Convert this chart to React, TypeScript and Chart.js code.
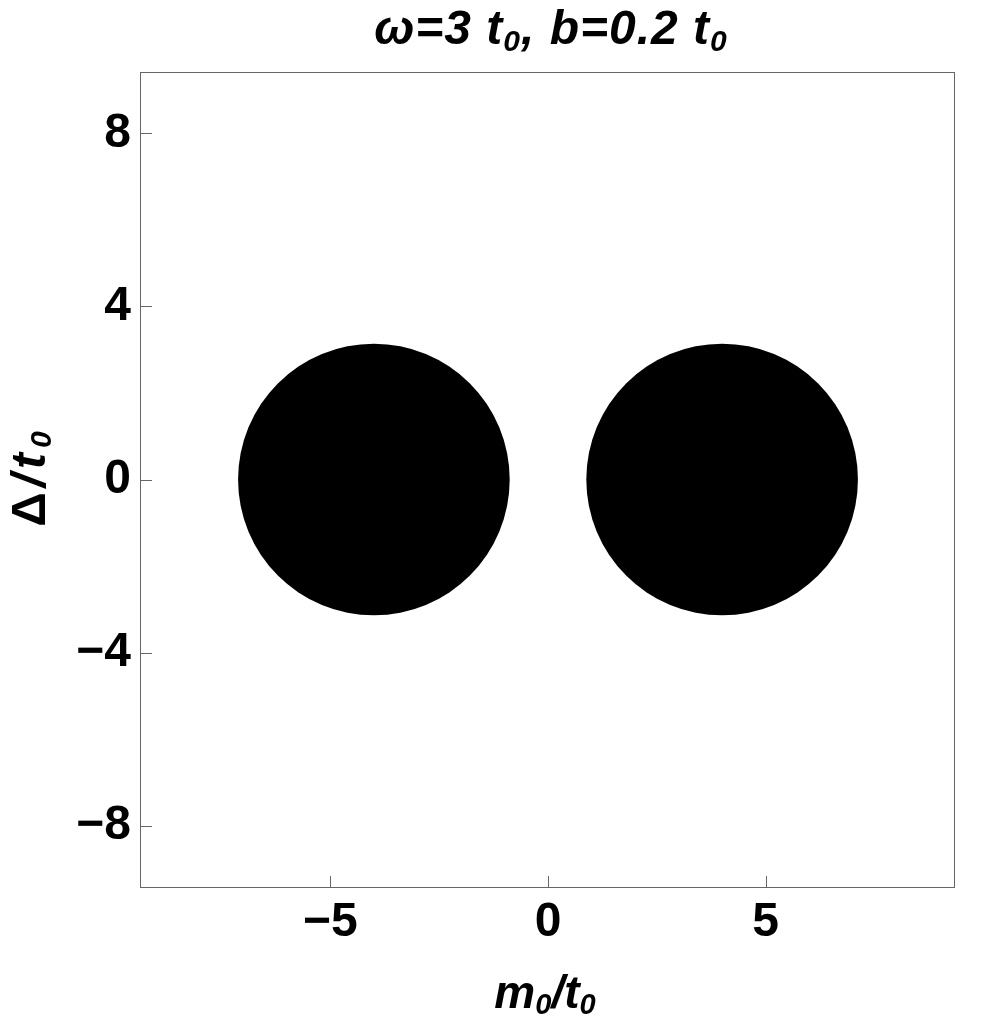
import React, { useEffect, useRef } from "react";
import { Chart, registerables } from "chart.js";

Chart.register(...registerables);

const xTickValues = [-5, 0, 5];
const yTickValues = [-8, -4, 0, 4, 8];
const xRange = [-9.35, 9.35];
const yRange = [-9.42, 9.42];
const diskCentersX = [-4, 4];
const diskCentersY = [0, 0];
const diskRadii = [3.12, 3.12];

type Part = { text: string; sub: string; upright?: boolean };
const titleParts: Part[] = [
  { text: "ω=3 t", sub: "0" },
  { text: ", b=0.2 t", sub: "0" },
];
const xLabelParts: Part[] = [
  { text: "m", sub: "0" },
  { text: "/t", sub: "0" },
];
const yLabelParts: Part[] = [
  { text: "Δ", sub: "", upright: true },
  { text: "/t", sub: "0" },
];

const FONT = "'Liberation Sans', Arial, sans-serif";
const FRAME = "#666666";

const fmt = (v: number) => (v < 0 ? "\u2212" + Math.abs(v) : String(v));

function drawRich(
  ctx: any,
  parts: Part[],
  cx: number,
  baseline: number,
  size: number,
  subSize: number,
  subDrop: number,
  spacing: number
) {
  ctx.letterSpacing = spacing + "px";
  const mainFont = (p: Part) => `${p.upright ? "" : "italic "}bold ${size}px ${FONT}`;
  const subFont = `italic bold ${subSize}px ${FONT}`;
  let total = 0;
  const widths = parts.map((p) => {
    ctx.font = mainFont(p);
    const w1 = ctx.measureText(p.text).width;
    ctx.font = subFont;
    const w2 = p.sub ? ctx.measureText(p.sub).width : 0;
    total += w1 + w2;
    return [w1, w2];
  });
  let x = cx - total / 2;
  ctx.fillStyle = "#000000";
  ctx.textAlign = "left";
  ctx.textBaseline = "alphabetic";
  parts.forEach((p, i) => {
    ctx.font = mainFont(p);
    ctx.fillText(p.text, x, baseline);
    x += widths[i][0];
    if (p.sub) {
      ctx.font = subFont;
      ctx.fillText(p.sub, x, baseline + subDrop);
      x += widths[i][1];
    }
  });
  ctx.letterSpacing = "0px";
}

const framePlugin = {
  id: "frameTicks",
  afterDraw(chart: any) {
    const { ctx, chartArea } = chart;
    const { left, right, top, bottom } = chartArea;
    ctx.save();
    ctx.strokeStyle = FRAME;
    ctx.lineWidth = 1;
    ctx.strokeRect(left - 0.5, top + 0.5, right - left, bottom - top);
    const xs = chart.scales.x;
    const ys = chart.scales.y;
    ctx.beginPath();
    xTickValues.forEach((v) => {
      const px = Math.round(xs.getPixelForValue(v)) + 0.5;
      ctx.moveTo(px, bottom);
      ctx.lineTo(px, bottom - 11);
    });
    yTickValues.forEach((v) => {
      const py = Math.round(ys.getPixelForValue(v)) + 0.5;
      ctx.moveTo(left, py);
      ctx.lineTo(left + 11, py);
    });
    ctx.stroke();

    const cx = (left + right) / 2;
    drawRich(ctx, titleParts, cx + 3, 44, 48, 30, 7, 1);
    drawRich(ctx, xLabelParts, cx - 3, 1008, 46, 29, 6, 0);
    ctx.translate(45, (top + bottom) / 2 - 3);
    ctx.rotate(-Math.PI / 2);
    drawRich(ctx, yLabelParts, 0, 0, 48, 30, 6, 5);
    ctx.restore();
  },
};

export default function App() {
  const ref = useRef<HTMLCanvasElement | null>(null);
  useEffect(() => {
    document.body.style.margin = "0";
    const canvas = ref.current;
    if (!canvas) return;
    const points = diskCentersX.map((x, i) => ({ x, y: diskCentersY[i] }));
    const radiusPx = (ctx: any) => {
      const s = ctx.chart.scales.x;
      const r = diskRadii[ctx.dataIndex] ?? 0;
      return Math.abs(s.getPixelForValue(r) - s.getPixelForValue(0));
    };
    const chart = new Chart(canvas, {
      type: "scatter",
      data: {
        datasets: [
          {
            data: points,
            backgroundColor: "#000000",
            borderColor: "#000000",
            borderWidth: 0,
            pointRadius: radiusPx,
            pointHoverRadius: radiusPx,
          },
        ],
      },
      options: {
        animation: false,
        responsive: false,
        maintainAspectRatio: false,
        layout: { padding: { left: 0, right: 45, top: 72, bottom: 0 } },
        plugins: {
          legend: { display: false },
          tooltip: { enabled: false },
          title: { display: false },
        },
        scales: {
          x: {
            type: "linear",
            min: xRange[0],
            max: xRange[1],
            afterFit: (s: any) => {
              s.height = 138;
            },
            afterBuildTicks: (s: any) => {
              s.ticks = xTickValues.map((v) => ({ value: v }));
            },
            grid: { display: false, drawTicks: false },
            border: { display: false },
            ticks: {
              color: "#000000",
              padding: 7,
              maxRotation: 0,
              font: { family: FONT, size: 48, weight: "bold" },
              callback: (v: any) => fmt(Number(v)),
            },
          },
          y: {
            type: "linear",
            min: yRange[0],
            max: yRange[1],
            afterFit: (s: any) => {
              s.width = 141;
            },
            afterBuildTicks: (s: any) => {
              s.ticks = yTickValues.map((v) => ({ value: v }));
            },
            grid: { display: false, drawTicks: false },
            border: { display: false },
            ticks: {
              color: "#000000",
              padding: 10,
              font: { family: FONT, size: 48, weight: "bold" },
              callback: (v: any) => fmt(Number(v)),
            },
          },
        },
      },
      plugins: [framePlugin],
    } as any);
    return () => chart.destroy();
  }, []);
  return (
    <div style={{ width: 1000, height: 1025, background: "#ffffff" }}>
      <canvas ref={ref} width={1000} height={1025} style={{ display: "block", width: 1000, height: 1025 }} />
    </div>
  );
}
